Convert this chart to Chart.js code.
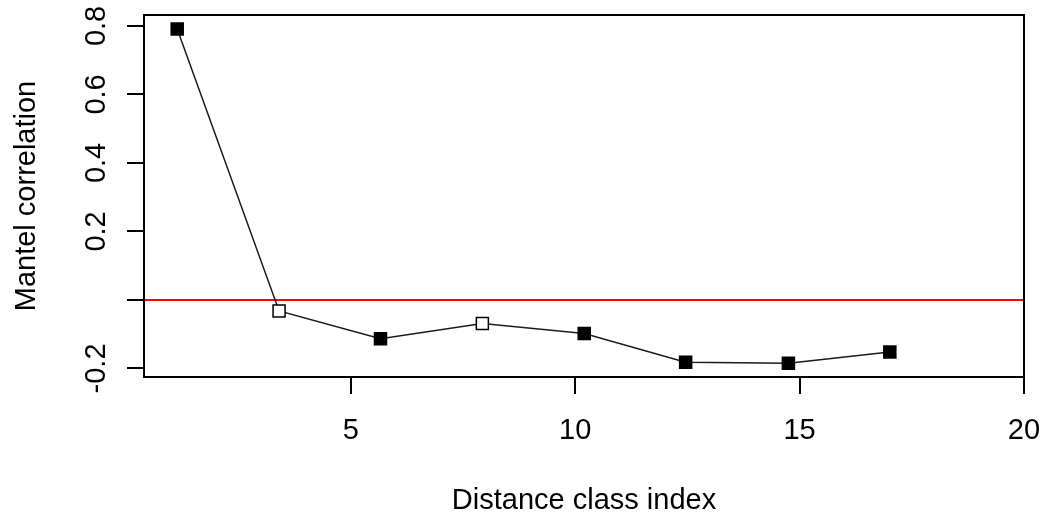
<!DOCTYPE html>
<html>
<head>
<meta charset="utf-8">
<script src="https://cdn.jsdelivr.net/npm/chart.js@4/dist/chart.umd.min.js"></script>
<style>
  html, body { margin: 0; padding: 0; background: #ffffff; }
  #wrap { width: 1045px; height: 512px; }
</style>
</head>
<body>
<div id="wrap"><canvas id="c" width="1045" height="512"></canvas></div>
<script>
// Mantel correlogram: correlation per distance class
const classIndex = [1.13, 3.40, 5.66, 7.93, 10.20, 12.46, 14.75, 17.01];
const mantelR = [0.791, -0.032, -0.113, -0.069, -0.098, -0.182, -0.185, -0.152];
const significant = [true, false, true, false, true, true, true, true];

const xTicks = [5, 10, 15, 20];
const xTickLabels = ['5', '10', '15', '20'];
const yTicks = [-0.2, 0, 0.2, 0.4, 0.6, 0.8];
const yTickLabels = ['-0.2', '', '0.2', '0.4', '0.6', '0.8'];

const xTitle = 'Distance class index';
const yTitle = 'Mantel correlation';
const refLine = 0;

const FONT = '29px "Liberation Sans", Arial, sans-serif';

const points = classIndex.map((x, i) => ({ x: x, y: mantelR[i] }));

// frame, zero reference line and all axis text
const framePlugin = {
  id: 'frame',
  beforeDatasetsDraw(chart) {
    const { ctx, chartArea: a, scales } = chart;
    const yz = scales.y.getPixelForValue(refLine);
    ctx.save();
    ctx.strokeStyle = '#ff0000';
    ctx.lineWidth = 2;
    ctx.beginPath();
    ctx.moveTo(a.left, yz);
    ctx.lineTo(a.right, yz);
    ctx.stroke();
    ctx.restore();
  },
  afterDraw(chart) {
    const { ctx, chartArea: a, scales } = chart;
    ctx.save();
    ctx.strokeStyle = '#000000';
    ctx.lineWidth = 2;
    ctx.strokeRect(a.left, a.top, a.right - a.left, a.bottom - a.top);

    ctx.fillStyle = '#000000';
    ctx.font = FONT;

    // x tick labels
    ctx.textAlign = 'center';
    ctx.textBaseline = 'alphabetic';
    xTicks.forEach((v, i) => {
      ctx.fillText(xTickLabels[i], scales.x.getPixelForValue(v), 439);
    });
    // x title
    ctx.fillText(xTitle, (a.left + a.right) / 2, 509);

    // y tick labels, rotated
    yTicks.forEach((v, i) => {
      if (!yTickLabels[i]) return;
      ctx.save();
      ctx.translate(105, scales.y.getPixelForValue(v));
      ctx.rotate(-Math.PI / 2);
      ctx.fillText(yTickLabels[i], 0, 0);
      ctx.restore();
    });
    // y title
    ctx.save();
    ctx.translate(35, (a.top + a.bottom) / 2);
    ctx.rotate(-Math.PI / 2);
    ctx.fillText(yTitle, 0, 0);
    ctx.restore();

    ctx.restore();
  }
};

new Chart(document.getElementById('c'), {
  type: 'line',
  data: {
    datasets: [{
      data: points,
      borderColor: '#1a1a1a',
      borderWidth: 1.5,
      pointStyle: 'rect',
      pointRadius: 8.5,
      pointBorderWidth: 1.5,
      pointBorderColor: '#000000',
      pointBackgroundColor: significant.map(s => s ? '#000000' : '#ffffff'),
      tension: 0,
      clip: false
    }]
  },
  options: {
    responsive: false,
    animation: false,
    devicePixelRatio: 1,
    layout: { padding: { top: 15, right: 21, left: 0, bottom: 0 } },
    plugins: { legend: { display: false }, tooltip: { enabled: false } },
    scales: {
      x: {
        type: 'linear',
        min: 0.39,
        max: 20,
        afterBuildTicks(scale) { scale.ticks = xTicks.map(v => ({ value: v })); },
        afterFit(scale) { scale.height = 135; },
        ticks: { display: false },
        border: { display: false },
        grid: {
          drawOnChartArea: false,
          drawTicks: true,
          tickLength: 17,
          tickColor: '#000000',
          lineWidth: 2
        }
      },
      y: {
        type: 'linear',
        min: -0.225,
        max: 0.832,
        afterBuildTicks(scale) { scale.ticks = yTicks.map(v => ({ value: v })); },
        afterFit(scale) { scale.width = 144; },
        ticks: { display: false },
        border: { display: false },
        grid: {
          drawOnChartArea: false,
          drawTicks: true,
          tickLength: 17,
          tickColor: '#000000',
          lineWidth: 2
        }
      }
    }
  },
  plugins: [framePlugin]
});
</script>
</body>
</html>
